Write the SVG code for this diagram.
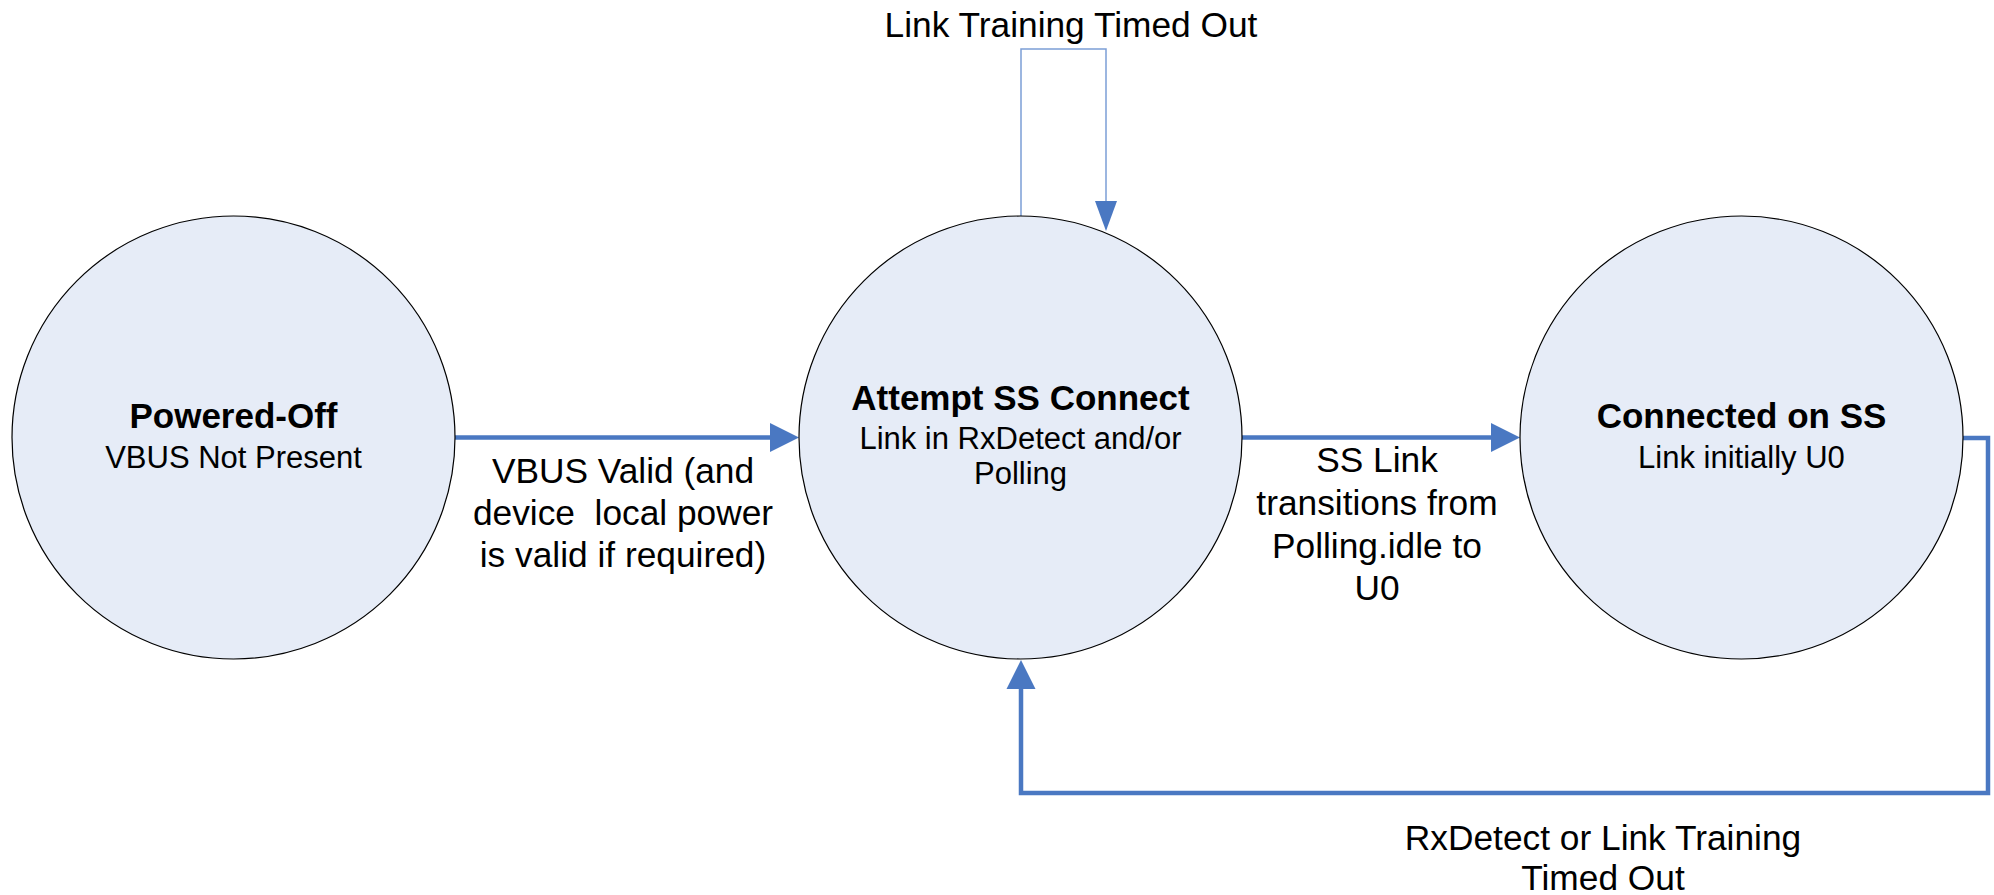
<svg xmlns="http://www.w3.org/2000/svg" width="1994" height="895" viewBox="0 0 1994 895">
<style>
.node{fill:#E6ECF7;stroke:#000;stroke-width:1.2}
.title{font-family:"Liberation Sans",Arial,sans-serif;font-weight:bold;font-size:35px;fill:#000;text-anchor:middle}
.sub{font-family:"Liberation Sans",Arial,sans-serif;font-size:31px;fill:#000;text-anchor:middle}
.lbl{font-family:"Liberation Sans",Arial,sans-serif;font-size:35.3px;fill:#000;text-anchor:middle;white-space:pre}
.thick{fill:none;stroke:#4A78C2;stroke-width:4.5}
.thin{fill:none;stroke:#7C9ED6;stroke-width:1.5}
</style>
<defs>
<marker id="ah" markerUnits="userSpaceOnUse" markerWidth="30" markerHeight="30" refX="0" refY="14.5" orient="auto" overflow="visible">
<path d="M0,0 L29,14.5 L0,29 Z" fill="#4A78C2"/>
</marker>
<marker id="ahs" markerUnits="userSpaceOnUse" markerWidth="31" markerHeight="24" refX="0" refY="11" orient="auto" overflow="visible">
<path d="M0,0 L30,11 L0,22 Z" fill="#4A78C2"/>
</marker>
</defs>
<g id="connectors">
<path class="thick" d="M455,437.5 H770" marker-end="url(#ah)"/>
<path class="thick" d="M1242,437.5 H1491" marker-end="url(#ah)"/>
<path class="thick" d="M1963,438 H1988 V793 H1021 V689" marker-end="url(#ah)"/>
<path class="thin" d="M1021,216 V49 H1106 V201" marker-end="url(#ahs)"/>
</g>
<g id="node-powered-off">
<circle class="node" cx="233.5" cy="437.5" r="221.5"/>
<text class="title" x="233.5" y="428">Powered-Off</text>
<text class="sub" x="233.5" y="468">VBUS Not Present</text>
</g>
<g id="node-attempt-ss">
<circle class="node" cx="1020.5" cy="437.5" r="221.5"/>
<text class="title" x="1020.5" y="410">Attempt SS Connect</text>
<text class="sub" x="1020.5" y="449">Link in RxDetect and/or</text>
<text class="sub" x="1020.5" y="484">Polling</text>
</g>
<g id="node-connected-ss">
<circle class="node" cx="1741.5" cy="437.5" r="221.5"/>
<text class="title" x="1741.5" y="428">Connected on SS</text>
<text class="sub" x="1741.5" y="468">Link initially U0</text>
</g>
<g id="labels">
<text class="lbl" x="1071" y="37">Link Training Timed Out</text>
<text class="lbl" x="623" y="483">VBUS Valid (and</text>
<text class="lbl" x="623" y="525">device  local power</text>
<text class="lbl" x="623" y="567">is valid if required)</text>
<text class="lbl" x="1377" y="472">SS Link</text>
<text class="lbl" x="1377" y="515">transitions from</text>
<text class="lbl" x="1377" y="558">Polling.idle to</text>
<text class="lbl" x="1377" y="600">U0</text>
<text class="lbl" x="1603" y="850">RxDetect or Link Training</text>
<text class="lbl" x="1603" y="890">Timed Out</text>
</g>
</svg>
